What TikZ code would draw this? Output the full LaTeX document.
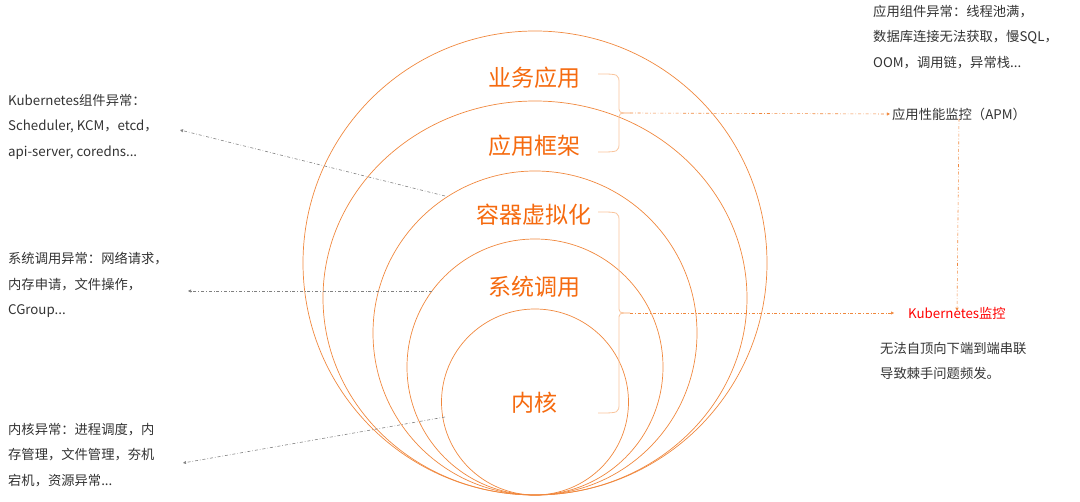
\documentclass[tikz,border=0pt]{standalone}
\usepackage{fontspec}
\setmainfont{Noto Sans CJK SC}
\usetikzlibrary{arrows.meta}
\definecolor{ring}{HTML}{F0883E}
\definecolor{lbl}{HTML}{F56A0F}
\definecolor{brc}{HTML}{F9C49C}
\definecolor{txt}{HTML}{333333}
\tikzset{
 ringc/.style={draw=ring,line width=0.7pt},
 layer/.style={text=lbl,font=\fontsize{23}{26}\selectfont,inner sep=0pt},
 note/.style={text=txt,font=\fontsize{13.3}{25.5}\selectfont,align=left,anchor=north west,inner sep=0pt},
 bracec/.style={draw=brc,line width=0.8pt},
 oarr/.style={draw=ring,line width=0.6pt,dash dot,-{Triangle[length=3pt,width=3pt]}},
 garr/.style={draw=gray,line width=0.6pt,dash dot,-{Triangle[length=3pt,width=3pt]}}
}
\begin{document}
\begin{tikzpicture}[x=1pt,y=-1pt]
\useasboundingbox (0,0) rectangle (1080,502);
\draw[ringc] (535,263) ellipse (232 and 232);
\draw[ringc] (535,298) ellipse (212 and 197);
\draw[ringc] (535,333) ellipse (162 and 162);
\draw[ringc] (535,367) ellipse (128 and 128);
\draw[ringc] (535,402) ellipse (93.5 and 93);
\node[layer] (l1) at (534,78) {业务应用};
\node[layer] (l2) at (534,146) {应用框架};
\node[layer] (l3) at (534,215) {容器虚拟化};
\node[layer] (l4) at (534,287) {系统调用};
\node[layer] (l5) at (534,403) {内核};
% braces
\draw[bracec] (598,74) .. controls (619,74) and (619,74) .. (619,84) -- (619,106) .. controls (619,113) .. (630,113);
\draw[bracec] (598,152) .. controls (619,152) and (619,152) .. (619,142) -- (619,120) .. controls (619,113) .. (630,113);
\coordinate (b1) at (630,113);
\draw[bracec] (598,212) .. controls (619,212) and (619,212) .. (619,222) -- (619,306) .. controls (619,313) .. (630,313);
\draw[bracec] (598,413) .. controls (619,413) and (619,413) .. (619,403) -- (619,320) .. controls (619,313) .. (630,313);
\coordinate (b2) at (630,313);
\node[text=txt,font=\fontsize{13.3}{15}\selectfont,inner sep=2pt] (apm) at (959,114) {应用性能监控（APM）};
\node[text=red,font=\fontsize{13.3}{15}\selectfont,inner sep=2pt] (k8s) at (957,313) {Kubernetes监控};
\draw[oarr] (b1) -- (apm.west);
\draw[oarr] (b2) -- ([xshift=-12pt]k8s.west);
\draw[oarr] ([yshift=4pt]apm.south) -- ([yshift=-6pt]k8s.north);
\node[note] (tr) at (873,5) {应用组件异常：线程池满，\\数据库连接无法获取，慢SQL，\\OOM，调用链，异常栈...};
\node[note] (k8snote) at (880,342) {无法自顶向下端到端串联\\导致棘手问题频发。};
\node[note] (n1) at (8,94) {Kubernetes组件异常：\\Scheduler, KCM，etcd，\\api-server, coredns...};
\node[note] (n2) at (8,252) {系统调用异常：网络请求，\\内存申请，文件操作，\\CGroup...};
\node[note] (n3) at (8,423) {内核异常：进程调度，内\\存管理，文件管理，夯机\\宕机，资源异常...};
\coordinate (s1) at (445,196);
\coordinate (e1) at (180,130);
\coordinate (s2) at (432,291);
\coordinate (e2) at (188,291);
\coordinate (s3) at (445,417);
\coordinate (e3) at (183,463);
\draw[garr] (s1) -- (e1);
\draw[garr] (s2) -- (e2);
\draw[garr] (s3) -- (e3);
\end{tikzpicture}
\end{document}
